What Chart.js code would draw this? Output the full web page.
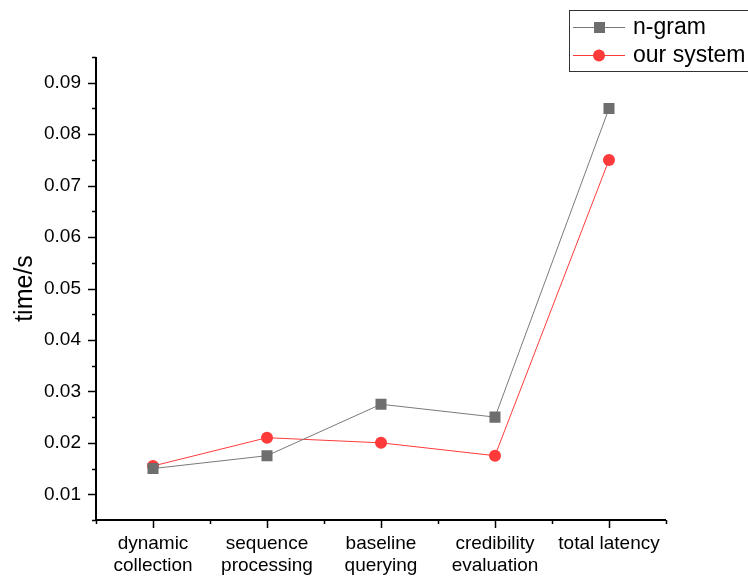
<!DOCTYPE html>
<html>
<head>
<meta charset="utf-8">
<script src="https://cdn.jsdelivr.net/npm/chart.js@4/dist/chart.umd.min.js"></script>
<style>
  html, body { margin: 0; padding: 0; background: #fff; }
  #wrap { width: 748px; height: 577px; position: relative; }
</style>
</head>
<body>
<div id="wrap"><canvas id="bieuDo" width="748" height="577"></canvas></div>
<script>
const categories = [
    ['dynamic', 'collection'],
    ['sequence', 'processing'],
    ['baseline', 'querying'],
    ['credibility', 'evaluation'],
    'total latency'
];
const nGram = [0.015, 0.0175, 0.0275, 0.025, 0.085];
const ourSystem = [0.0155, 0.021, 0.020, 0.0175, 0.075];
const yTicks = [0.01, 0.02, 0.03, 0.04, 0.05, 0.06, 0.07, 0.08, 0.09];

const FONT = 'Arial, "Liberation Sans", sans-serif';

// ve vach chia tay (major + minor) nhu Origin
const vachChia = {
    id: 'vachChia',
    afterDraw(chart) {
        const ctx = chart.ctx;
        const x = chart.scales.x, y = chart.scales.y;
        ctx.save();
        ctx.strokeStyle = '#000';
        ctx.lineWidth = 2;
        // truc
        ctx.beginPath();
        ctx.moveTo(x.left, y.top);
        ctx.lineTo(x.left, y.bottom);
        ctx.lineTo(x.right, y.bottom);
        ctx.stroke();
        ctx.lineWidth = 1.5;
        // y: major & minor
        for (let v = 0.005; v <= 0.0951; v += 0.005) {
            const py = Math.round(y.getPixelForValue(v)) + 0.5;
            const major = Math.abs(Math.round(v * 100) - v * 100) < 1e-6;
            ctx.beginPath();
            ctx.moveTo(x.left, py);
            ctx.lineTo(x.left - (major ? 8 : 4), py);
            ctx.stroke();
        }
        // x: major tai tam, minor giua cac nhom
        const half = (x.getPixelForValue(1) - x.getPixelForValue(0)) / 2;
        for (let i = 0; i < categories.length; i++) {
            const px = Math.round(x.getPixelForValue(i)) + 0.5;
            ctx.beginPath();
            ctx.moveTo(px, y.bottom);
            ctx.lineTo(px, y.bottom + 8);
            ctx.stroke();
            const mx = Math.round(x.getPixelForValue(i) + half) + 0.5;
            ctx.beginPath();
            ctx.moveTo(mx, y.bottom);
            ctx.lineTo(mx, y.bottom + 4);
            ctx.stroke();
            if (i === 0) {
                const lx = Math.round(x.getPixelForValue(0) - half) + 0.5;
                ctx.beginPath();
                ctx.moveTo(lx, y.bottom);
                ctx.lineTo(lx, y.bottom + 4);
                ctx.stroke();
            }
        }
        ctx.restore();
    }
};

// chu giai ve tay (duong + diem)
const chuGiai = {
    id: 'chuGiai',
    afterDraw(chart) {
        const ctx = chart.ctx;
        ctx.save();
        ctx.strokeStyle = '#333';
        ctx.lineWidth = 1;
        ctx.strokeRect(569.5, 10.5, 200, 61);
        const rows = [
            { y: 27, ds: chart.data.datasets[0] },
            { y: 55, ds: chart.data.datasets[1] }
        ];
        rows.forEach(r => {
            ctx.strokeStyle = r.ds.borderColor;
            ctx.lineWidth = 1;
            ctx.beginPath();
            ctx.moveTo(573, r.y + 0.5);
            ctx.lineTo(625, r.y + 0.5);
            ctx.stroke();
            ctx.fillStyle = r.ds.pointBackgroundColor;
            if (r.ds.pointStyle === 'rect') {
                ctx.fillRect(594, r.y - 5, 11, 11);
            } else {
                ctx.beginPath();
                ctx.arc(599, r.y + 0.5, 6, 0, Math.PI * 2);
                ctx.fill();
            }
            ctx.fillStyle = '#000';
            ctx.font = '23px ' + FONT;
            ctx.textBaseline = 'middle';
            ctx.fillText(r.ds.label, 633, r.y + 1);
        });
        ctx.restore();
    }
};

new Chart(document.getElementById('bieuDo').getContext('2d'), {
    type: 'line',
    data: {
        labels: categories,
        datasets: [{
            label: 'n-gram',
            data: nGram,
            borderColor: '#7a7a7a',
            borderWidth: 1,
            pointStyle: 'rect',
            pointRadius: 7.8,
            pointBackgroundColor: '#6e6e6e',
            pointBorderWidth: 0,
            pointBorderColor: '#6e6e6e'
        }, {
            label: 'our system',
            data: ourSystem,
            borderColor: '#ff3b3b',
            borderWidth: 1,
            pointStyle: 'circle',
            pointRadius: 6,
            pointBackgroundColor: '#ff3a3a',
            pointBorderWidth: 0,
            pointBorderColor: '#ff3a3a'
        }]
    },
    options: {
        responsive: false,
        animation: false,
        layout: { padding: { top: 57, right: 82, left: 0, bottom: 0 } },
        plugins: { legend: { display: false }, tooltip: { enabled: false } },
        scales: {
            x: {
                type: 'category',
                offset: true,
                grid: { display: false, drawTicks: false },
                border: { display: false },
                ticks: {
                    color: '#000',
                    font: { family: FONT, size: 19, lineHeight: 1.15 },
                    padding: 13,
                    maxRotation: 0,
                    autoSkip: false
                },
                afterFit(s) { s.height = 57; }
            },
            y: {
                min: 0.005,
                max: 0.095,
                grid: { display: false, drawTicks: false },
                border: { display: false },
                afterBuildTicks(s) { s.ticks = yTicks.map(v => ({ value: v })); },
                ticks: {
                    color: '#000',
                    font: { family: FONT, size: 19 },
                    padding: 15,
                    callback: v => v.toFixed(2)
                },
                title: {
                    display: true,
                    text: 'time/s',
                    color: '#000',
                    font: { family: FONT, size: 25, lineHeight: 1.2 },
                    padding: { top: 10, bottom: 0 }
                },
                afterFit(s) { s.width = 96; }
            }
        }
    },
    plugins: [vachChia, chuGiai]
});
</script>
</body>
</html>
